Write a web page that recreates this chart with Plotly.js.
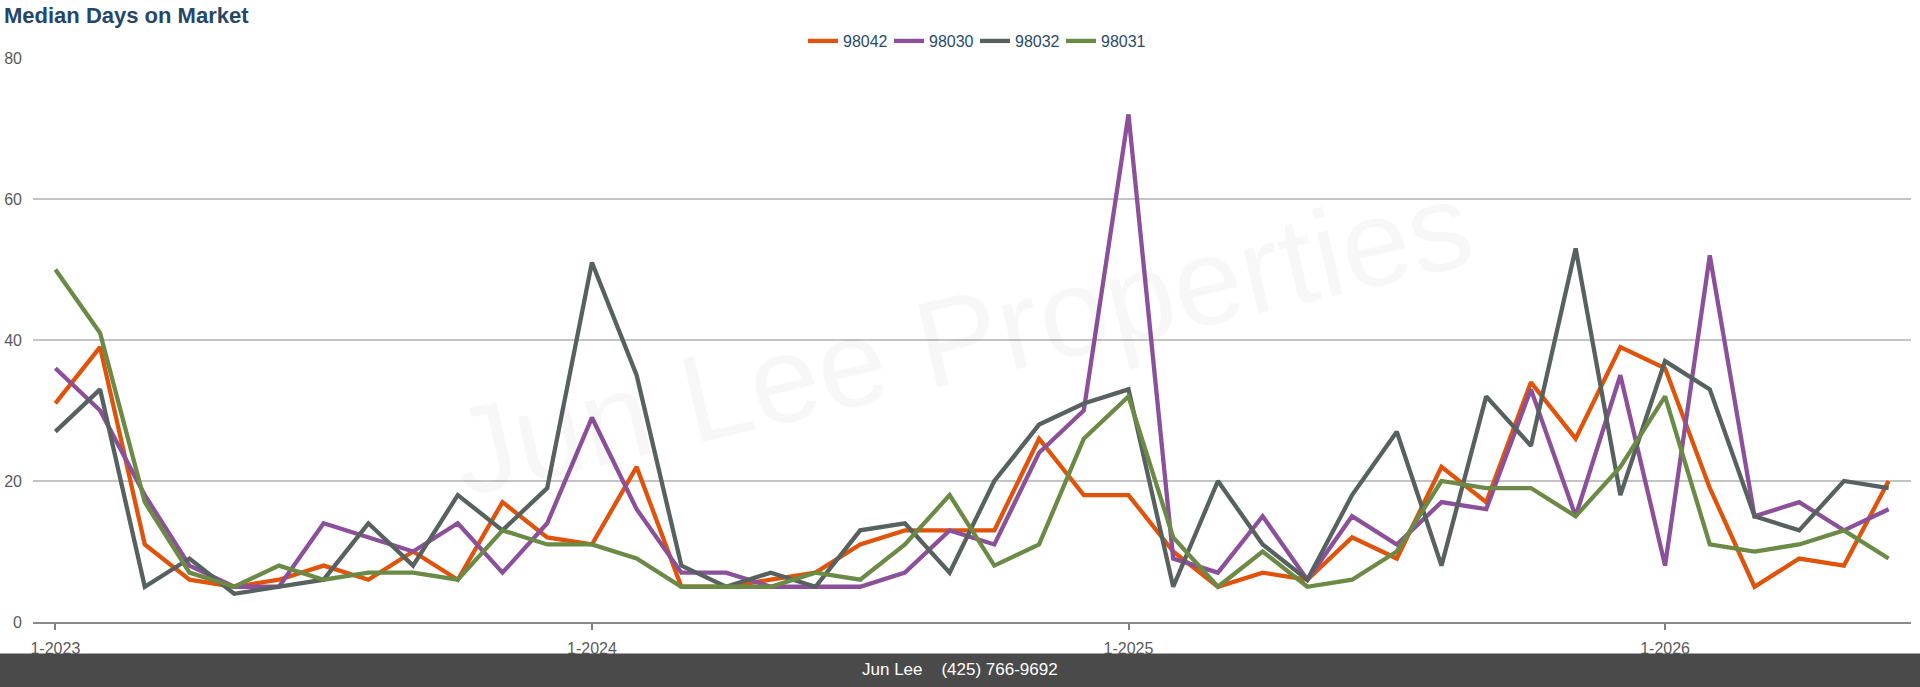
<!DOCTYPE html>
<html>
<head>
<meta charset="utf-8">
<script src="https://cdn.plot.ly/plotly-3.0.1.min.js"></script>
<style>
  html, body { margin: 0; padding: 0; background: #ffffff; }
  #chart { width: 1920px; height: 687px; }
</style>
</head>
<body>
<div id="chart"></div>
<script>
// Month categories (Jan 2023 .. Jun 2026)
const months = [
  "1-2023","2-2023","3-2023","4-2023","5-2023","6-2023","7-2023","8-2023","9-2023","10-2023","11-2023","12-2023",
  "1-2024","2-2024","3-2024","4-2024","5-2024","6-2024","7-2024","8-2024","9-2024","10-2024","11-2024","12-2024",
  "1-2025","2-2025","3-2025","4-2025","5-2025","6-2025","7-2025","8-2025","9-2025","10-2025","11-2025","12-2025",
  "1-2026","2-2026","3-2026","4-2026","5-2026","6-2026"
];
const tickLabels = ["1-2023", "1-2024", "1-2025", "1-2026"];
const yTicks = [0, 20, 40, 60, 80];

const seriesNames = ["98042", "98030", "98032", "98031"];

const zip98042 = [31,39,11,6,5,6,8,6,10,6,17,12,11,22,5,5,6,7,11,13,13,13,26,18,18,10,5,7,6,12,9,22,17,34,26,39,36,19,5,9,8,20];
const zip98030 = [36,30,18,8,5,5,14,12,10,14,7,14,29,16,7,7,5,5,5,7,13,11,24,30,72,9,7,15,6,15,11,17,16,33,15,35,8,52,15,17,13,16];
const zip98032 = [27,33,5,9,4,5,6,14,8,18,13,19,51,35,8,5,7,5,13,14,7,20,28,31,33,5,20,11,6,18,27,8,32,25,53,18,37,33,15,13,20,19];
const zip98031 = [50,41,17,7,5,8,6,7,7,6,13,11,11,9,5,5,5,7,6,11,18,8,11,26,32,12,5,10,5,6,10,20,19,19,15,22,32,11,10,11,13,9];

const seriesValues = [zip98042, zip98030, zip98032, zip98031];
const seriesColors = ["#e0530a", "#8c509b", "#566160", "#6a8a45"];

const W = 1920, H = 687;
const M = { l: 33, r: 9, t: 57.5, b: 64.5 };
const plotW = W - M.l - M.r;
const plotH = H - M.t - M.b;
const footerTop = 654;

const traces = seriesNames.map((name, k) => ({
  type: "scatter",
  mode: "lines",
  name: name,
  x: months,
  y: seriesValues[k],
  line: { color: seriesColors[k], width: 4.3, shape: "linear" },
  hoverinfo: "skip"
}));

const layout = {
  width: W,
  height: H,
  margin: { l: M.l, r: M.r, t: M.t, b: M.b, pad: 0 },
  paper_bgcolor: "#ffffff",
  plot_bgcolor: "#ffffff",
  font: { family: "Liberation Sans, Arial, sans-serif", size: 15, color: "#666666" },
  title: {
    text: "<b>Median Days on Market</b>",
    font: { family: "Liberation Sans, Arial, sans-serif", size: 22, color: "#24466b" },
    x: 4 / W,
    xanchor: "left",
    xref: "container",
    y: 1 - 15 / H,
    yanchor: "middle",
    yref: "container"
  },
  showlegend: true,
  legend: {
    orientation: "h",
    x: (975 - M.l) / plotW,
    xanchor: "center",
    y: 1 + (M.t - 40.5) / plotH,
    yanchor: "middle",
    font: { family: "Liberation Sans, Arial, sans-serif", size: 16, color: "#2b4a6b" },
    bgcolor: "rgba(0,0,0,0)",
    itemwidth: 30,
    entrywidth: 41,
    entrywidthmode: "pixels",
    traceorder: "normal"
  },
  xaxis: {
    type: "category",
    range: [-0.5, months.length - 0.5],
    tickmode: "array",
    tickvals: tickLabels,
    ticktext: tickLabels,
    ticks: "outside",
    ticklen: 6,
    tickwidth: 2,
    tickcolor: "#808080",
    ticklabelstandoff: 5,
    showline: true,
    linecolor: "#8a8a8a",
    linewidth: 2,
    showgrid: false,
    zeroline: false,
    tickfont: { size: 16, color: "#5a5a5a" },
    fixedrange: true
  },
  yaxis: {
    range: [0, 80],
    tickmode: "array",
    tickvals: yTicks,
    ticktext: yTicks.map(String),
    showgrid: true,
    gridcolor: "#c4c4c4",
    gridwidth: 1.5,
    zeroline: false,
    showline: false,
    ticks: "",
    ticklabelstandoff: 10,
    tickfont: { size: 16, color: "#5a5a5a" },
    fixedrange: true
  },
  shapes: [
    {
      type: "rect",
      xref: "paper", yref: "paper",
      x0: -M.l / plotW, x1: (W - M.l) / plotW,
      y0: -(H - M.t - plotH) / plotH - 0.01,
      y1: (M.t + plotH - footerTop) / plotH,
      fillcolor: "#4a4a4a",
      line: { width: 0 },
      layer: "above"
    }
  ],
  annotations: [
    {
      text: "Jun Lee Properties",
      xref: "paper", yref: "paper",
      x: (961 - M.l) / plotW,
      y: (M.t + plotH - 338) / plotH,
      xanchor: "center", yanchor: "middle",
      showarrow: false,
      textangle: -13,
      font: { family: "Liberation Sans, Arial, sans-serif", size: 124, color: "rgba(0,0,0,0.03)" }
    },
    {
      text: "Jun Lee    (425) 766-9692",
      xref: "paper", yref: "paper",
      x: (960 - M.l) / plotW,
      y: (M.t + plotH - 670) / plotH,
      xanchor: "center", yanchor: "middle",
      showarrow: false,
      font: { family: "Liberation Sans, Arial, sans-serif", size: 17, color: "#ffffff" }
    }
  ],
  hovermode: false
};

Plotly.newPlot("chart", traces, layout, { displayModeBar: false, staticPlot: true });
</script>
</body>
</html>
